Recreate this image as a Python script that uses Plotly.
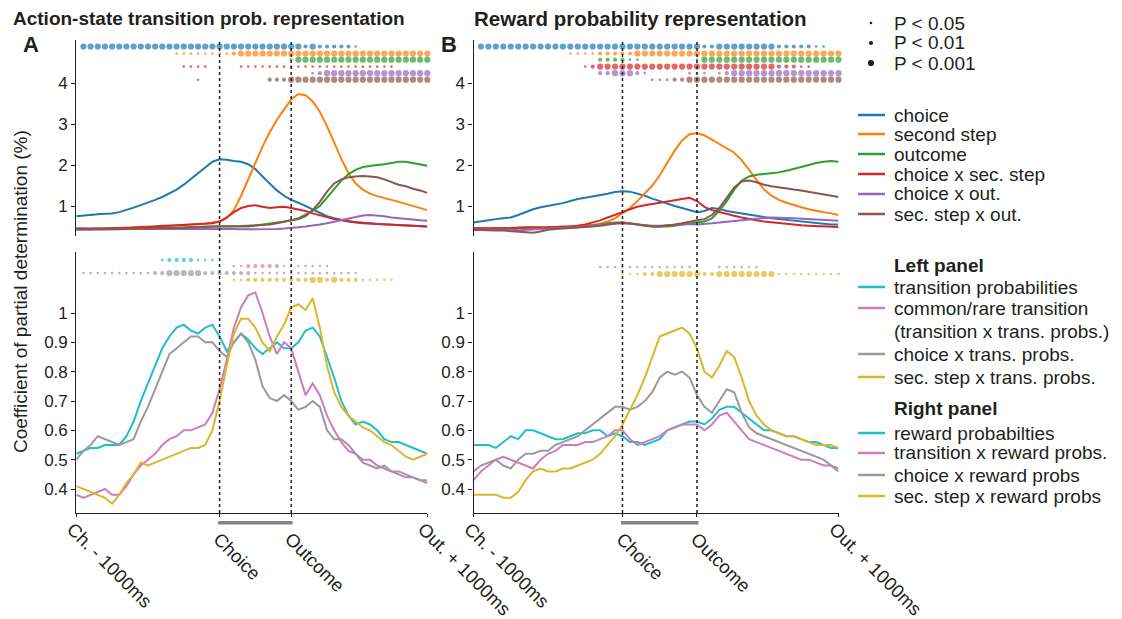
import plotly.graph_objects as go

W, H = 1122, 619
t = list(range(50))          # time bins: 0 = Ch.-1000ms, 20 = Choice, 30 = Outcome, 49 = Out.+1000ms
EVENT_TICKS = [0, 49]
EVENT_LABELS = ["Ch. - 1000ms", "Out. + 1000ms"]
MID_TICKS = [20, 30]
MID_LABELS = ["Choice", "Outcome"]

# ---------------- top panels (%), panel A ----------------
a_choice = [0.75, 0.77, 0.79, 0.80, 0.81, 0.82, 0.85, 0.90, 0.96, 1.02, 1.08, 1.15, 1.22, 1.30, 1.40, 1.52, 1.66,
            1.80, 1.95, 2.08, 2.14, 2.13, 2.10, 2.08, 2.02, 1.90, 1.72, 1.55, 1.38, 1.25, 1.15, 1.08, 1.00, 0.90,
            0.82, 0.75, 0.70, 0.66, 0.63, 0.61, 0.60, 0.58, 0.56, 0.55, 0.54, 0.53, 0.52, 0.52, 0.51, 0.50]
a_second = [0.45, 0.44, 0.43, 0.44, 0.45, 0.45, 0.46, 0.47, 0.48, 0.49, 0.50, 0.50, 0.51, 0.52, 0.53, 0.54, 0.55,
            0.56, 0.57, 0.60, 0.62, 0.70, 0.90, 1.25, 1.65, 2.05, 2.45, 2.80, 3.10, 3.35, 3.60, 3.73, 3.70, 3.55,
            3.30, 2.95, 2.55, 2.15, 1.80, 1.55, 1.40, 1.30, 1.24, 1.20, 1.15, 1.10, 1.05, 1.00, 0.95, 0.90]
a_outcome = [0.45, 0.44, 0.44, 0.45, 0.45, 0.46, 0.46, 0.46, 0.47, 0.47, 0.47, 0.47, 0.46, 0.46, 0.47, 0.48, 0.48,
             0.49, 0.50, 0.50, 0.50, 0.50, 0.50, 0.50, 0.50, 0.52, 0.55, 0.58, 0.60, 0.62, 0.65, 0.70, 0.78, 0.88,
             1.00, 1.20, 1.42, 1.62, 1.78, 1.88, 1.95, 1.98, 2.00, 2.02, 2.05, 2.08, 2.08, 2.05, 2.02, 1.98]
a_ch_sec = [0.45, 0.45, 0.44, 0.44, 0.45, 0.46, 0.46, 0.47, 0.47, 0.48, 0.48, 0.50, 0.52, 0.52, 0.53, 0.54, 0.55,
            0.56, 0.56, 0.58, 0.62, 0.72, 0.85, 0.95, 1.00, 1.02, 0.98, 0.95, 0.97, 0.98, 0.95, 0.92, 0.88, 0.82,
            0.77, 0.72, 0.68, 0.65, 0.62, 0.60, 0.58, 0.57, 0.56, 0.55, 0.54, 0.53, 0.52, 0.52, 0.51, 0.50]
a_ch_out = [0.42, 0.42, 0.42, 0.43, 0.43, 0.43, 0.44, 0.44, 0.44, 0.45, 0.45, 0.45, 0.45, 0.45, 0.45, 0.45, 0.45,
            0.45, 0.45, 0.45, 0.45, 0.44, 0.44, 0.43, 0.43, 0.43, 0.43, 0.43, 0.44, 0.45, 0.46, 0.48, 0.50, 0.52,
            0.55, 0.58, 0.62, 0.66, 0.70, 0.74, 0.77, 0.78, 0.77, 0.75, 0.72, 0.70, 0.68, 0.66, 0.65, 0.64]
a_sec_out = [0.43, 0.43, 0.42, 0.42, 0.42, 0.43, 0.43, 0.44, 0.44, 0.45, 0.45, 0.46, 0.46, 0.46, 0.47, 0.47, 0.48,
             0.48, 0.49, 0.50, 0.50, 0.50, 0.50, 0.51, 0.52, 0.53, 0.54, 0.55, 0.58, 0.62, 0.65, 0.68, 0.75, 0.90,
             1.10, 1.35, 1.55, 1.65, 1.70, 1.72, 1.73, 1.72, 1.70, 1.65, 1.58, 1.52, 1.48, 1.42, 1.38, 1.32]

# ---------------- top panels (%), panel B ----------------
b_choice = [0.60, 0.63, 0.66, 0.68, 0.70, 0.72, 0.78, 0.85, 0.92, 0.97, 1.00, 1.03, 1.07, 1.12, 1.17, 1.20, 1.23,
            1.27, 1.30, 1.34, 1.36, 1.35, 1.30, 1.25, 1.18, 1.12, 1.05, 1.00, 0.95, 0.90, 0.85, 0.88, 0.95, 0.93,
            0.88, 0.85, 0.82, 0.78, 0.75, 0.72, 0.70, 0.68, 0.66, 0.64, 0.62, 0.60, 0.58, 0.56, 0.55, 0.55]
b_second = [0.45, 0.44, 0.44, 0.45, 0.46, 0.46, 0.47, 0.47, 0.48, 0.48, 0.49, 0.49, 0.50, 0.50, 0.51, 0.52, 0.54,
            0.57, 0.62, 0.70, 0.82, 0.95, 1.12, 1.30, 1.50, 1.75, 2.05, 2.35, 2.60, 2.75, 2.78, 2.72, 2.62, 2.52,
            2.42, 2.30, 2.12, 1.88, 1.62, 1.40, 1.25, 1.15, 1.08, 1.02, 0.97, 0.92, 0.88, 0.85, 0.82, 0.78]
b_outcome = [0.45, 0.45, 0.44, 0.45, 0.46, 0.46, 0.47, 0.48, 0.48, 0.47, 0.46, 0.46, 0.47, 0.48, 0.48, 0.50, 0.52,
             0.55, 0.58, 0.60, 0.60, 0.58, 0.55, 0.52, 0.50, 0.50, 0.50, 0.52, 0.55, 0.58, 0.60, 0.62, 0.70, 0.88,
             1.12, 1.40, 1.62, 1.72, 1.76, 1.78, 1.80, 1.82, 1.86, 1.90, 1.95, 2.00, 2.05, 2.08, 2.10, 2.08]
b_ch_sec = [0.46, 0.46, 0.45, 0.45, 0.46, 0.46, 0.47, 0.47, 0.48, 0.48, 0.48, 0.49, 0.49, 0.50, 0.52, 0.55, 0.60,
            0.65, 0.72, 0.78, 0.85, 0.92, 0.98, 1.02, 1.05, 1.08, 1.12, 1.15, 1.18, 1.20, 1.12, 0.98, 0.90, 0.85,
            0.80, 0.76, 0.72, 0.68, 0.65, 0.62, 0.60, 0.58, 0.56, 0.55, 0.53, 0.52, 0.51, 0.50, 0.50, 0.49]
b_ch_out = [0.42, 0.42, 0.43, 0.42, 0.43, 0.42, 0.41, 0.42, 0.43, 0.44, 0.45, 0.45, 0.46, 0.47, 0.48, 0.50, 0.52,
            0.55, 0.57, 0.58, 0.58, 0.57, 0.55, 0.53, 0.52, 0.52, 0.53, 0.54, 0.55, 0.56, 0.55, 0.56, 0.58, 0.60,
            0.62, 0.64, 0.66, 0.68, 0.70, 0.71, 0.72, 0.72, 0.71, 0.70, 0.69, 0.68, 0.67, 0.66, 0.65, 0.64]
b_sec_out = [0.42, 0.41, 0.40, 0.40, 0.40, 0.39, 0.38, 0.36, 0.35, 0.38, 0.42, 0.44, 0.45, 0.46, 0.47, 0.48, 0.50,
             0.52, 0.55, 0.58, 0.60, 0.58, 0.55, 0.52, 0.50, 0.50, 0.52, 0.55, 0.58, 0.62, 0.65, 0.68, 0.78, 0.95,
             1.20, 1.45, 1.60, 1.62, 1.58, 1.52, 1.48, 1.45, 1.42, 1.40, 1.38, 1.35, 1.32, 1.28, 1.25, 1.22]

# ---------------- bottom panels (%), panel A ----------------
a_trans = [0.52, 0.53, 0.54, 0.54, 0.55, 0.55, 0.55, 0.58, 0.63, 0.70, 0.76, 0.82, 0.88, 0.92, 0.95, 0.96, 0.94,
           0.93, 0.95, 0.96, 0.92, 0.87, 0.90, 0.93, 0.91, 0.88, 0.86, 0.88, 0.90, 0.88, 0.88, 0.90, 0.94, 0.95,
           0.92, 0.85, 0.78, 0.70, 0.65, 0.62, 0.63, 0.62, 0.60, 0.57, 0.56, 0.56, 0.55, 0.54, 0.53, 0.52]
a_common = [0.38, 0.37, 0.38, 0.39, 0.40, 0.38, 0.38, 0.41, 0.45, 0.48, 0.50, 0.52, 0.55, 0.57, 0.58, 0.60, 0.60,
            0.61, 0.62, 0.66, 0.74, 0.84, 0.95, 1.02, 1.06, 1.07, 1.00, 0.92, 0.86, 0.90, 0.88, 0.80, 0.72, 0.76,
            0.72, 0.65, 0.60, 0.56, 0.53, 0.52, 0.50, 0.50, 0.48, 0.47, 0.46, 0.46, 0.45, 0.44, 0.43, 0.42]
a_ch_trans = [0.50, 0.53, 0.55, 0.58, 0.57, 0.56, 0.55, 0.56, 0.57, 0.63, 0.68, 0.74, 0.80, 0.86, 0.88, 0.90, 0.92,
              0.92, 0.90, 0.90, 0.87, 0.85, 0.90, 0.93, 0.90, 0.84, 0.75, 0.71, 0.70, 0.72, 0.70, 0.67, 0.68, 0.70,
              0.68, 0.60, 0.57, 0.57, 0.55, 0.52, 0.49, 0.48, 0.47, 0.48, 0.46, 0.45, 0.44, 0.44, 0.43, 0.43]
a_sec_trans = [0.41, 0.40, 0.39, 0.38, 0.37, 0.35, 0.38, 0.42, 0.45, 0.49, 0.48, 0.49, 0.50, 0.51, 0.52, 0.53, 0.54,
               0.54, 0.55, 0.60, 0.70, 0.82, 0.93, 0.98, 0.98, 0.95, 0.90, 0.87, 0.92, 0.96, 1.02, 1.03, 1.01, 1.05,
               0.95, 0.82, 0.73, 0.68, 0.65, 0.63, 0.61, 0.60, 0.58, 0.56, 0.55, 0.53, 0.51, 0.50, 0.51, 0.52]

# ---------------- bottom panels (%), panel B ----------------
b_reward = [0.55, 0.55, 0.55, 0.54, 0.56, 0.58, 0.57, 0.60, 0.60, 0.59, 0.58, 0.57, 0.57, 0.58, 0.59, 0.59, 0.60,
            0.60, 0.58, 0.59, 0.58, 0.56, 0.56, 0.55, 0.56, 0.57, 0.60, 0.61, 0.62, 0.63, 0.63, 0.62, 0.64, 0.67,
            0.68, 0.68, 0.66, 0.64, 0.62, 0.60, 0.60, 0.59, 0.58, 0.58, 0.57, 0.56, 0.56, 0.55, 0.54, 0.54]
b_tr_rew = [0.43, 0.46, 0.48, 0.50, 0.51, 0.50, 0.49, 0.48, 0.47, 0.50, 0.52, 0.53, 0.55, 0.55, 0.55, 0.56, 0.56,
            0.57, 0.58, 0.60, 0.60, 0.57, 0.55, 0.56, 0.57, 0.58, 0.60, 0.61, 0.62, 0.62, 0.62, 0.60, 0.62, 0.65,
            0.66, 0.63, 0.60, 0.57, 0.56, 0.55, 0.54, 0.53, 0.52, 0.51, 0.50, 0.50, 0.49, 0.48, 0.48, 0.47]
b_ch_rew = [0.46, 0.48, 0.49, 0.50, 0.48, 0.47, 0.50, 0.52, 0.52, 0.53, 0.53, 0.55, 0.56, 0.57, 0.58, 0.60, 0.62,
            0.64, 0.66, 0.68, 0.68, 0.67, 0.68, 0.70, 0.73, 0.78, 0.80, 0.79, 0.80, 0.78, 0.72, 0.68, 0.66, 0.70,
            0.74, 0.73, 0.66, 0.61, 0.59, 0.58, 0.57, 0.56, 0.55, 0.54, 0.53, 0.52, 0.51, 0.50, 0.48, 0.46]
b_sec_rew = [0.38, 0.38, 0.38, 0.38, 0.37, 0.37, 0.39, 0.43, 0.46, 0.47, 0.46, 0.46, 0.47, 0.47, 0.48, 0.49, 0.50,
             0.52, 0.55, 0.58, 0.62, 0.67, 0.72, 0.78, 0.85, 0.92, 0.93, 0.94, 0.95, 0.93, 0.88, 0.80, 0.78, 0.82,
             0.87, 0.85, 0.78, 0.70, 0.65, 0.62, 0.60, 0.59, 0.58, 0.58, 0.57, 0.56, 0.55, 0.55, 0.55, 0.54]

# ---------------- significance per bin (0 n.s., 1 p<0.05, 2 p<0.01, 3 p<0.001) ----------------
sig_a_choice = "0333333333" "3333333333" "3333333333" "3323222221" "0000000000"
sig_a_second = "0000000000" "0000111111" "1123333333" "3333333333" "3333333333"
sig_a_outcome = "0000000000" "0000000000" "0000000000" "1333333333" "3333333333"
sig_a_ch_sec = "0000000000" "0000011110" "0001111111" "1111111111" "1111100000"
sig_a_ch_out = "0000000000" "0000000000" "0000000000" "0001233333" "3333333333"
sig_a_sec_out = "0000000000" "0000000100" "0000000222" "3333333333" "3333333333"

sig_b_choice = "0333333333" "3333333333" "3333333333" "3223333333" "3222221100"
sig_b_second = "0000000000" "0001111222" "2233333333" "3333333333" "3333333333"
sig_b_outcome = "0000000000" "0000000222" "2110000000" "1333333333" "3333333333"
sig_b_ch_sec = "0000000000" "0000012333" "3333333333" "3333333333" "3222110000"
sig_b_ch_out = "0000000000" "0000000223" "3321000001" "1101233333" "3333333333"
sig_b_sec_out = "0000000000" "0000000000" "0000111223" "3333333333" "3333333333"

sig_a_trans = "0000000000" "0012222111" "0000000000" "0000000000" "0000000000"
sig_a_common = "0000000000" "0000000000" "0011222221" "1111110000" "0000000000"
sig_a_ch_trans = "0111111111" "1223333322" "2222211111" "1111111111" "0000000000"
sig_a_sec_trans = "0000000000" "0000000000" "0011222222" "2223323222" "1111100000"

sig_b_ch_rew = "0000000000" "0000000111" "1111111111" "0001111110" "0000000000"
sig_b_sec_rew = "0000000000" "0000000000" "1112233333" "3223333333" "3111111111"

# marker row heights (in each panel's y units)
top_rows = [4.89, 4.72, 4.57, 4.40, 4.24, 4.08]
bot_rows_a = [1.181, 1.160, 1.136, 1.113]
bot_rows_b = [1.157, 1.133]

BLUE, ORANGE, GREEN, RED, PURPLE, BROWN = "#1f77b4", "#ff7f0e", "#2ca02c", "#d62728", "#9467bd", "#8c564b"
CYAN, PINK, GRAY, YELLOW = "#1fbecf", "#d07bbd", "#9a9a9a", "#dbb52a"
INK = "#231f20"
FONT = "Liberation Sans, Arial, sans-serif"
DOT_SIZE = {1: 2.6, 2: 4.2, 3: 6.2}
TXT = 19      # legend / axis-title text size
XLAB = 18.5   # event label size
TICK = 17     # tick label size


def px(x):
    return x / W


def py(y):
    return 1 - y / H


fig = go.Figure()


def add_line(x_ax, y_ax, vals, color):
    fig.add_trace(go.Scatter(x=t, y=vals, mode="lines", line=dict(color=color, width=2),
                             xaxis=x_ax, yaxis=y_ax, showlegend=False, hoverinfo="skip"))


def add_sig(x_ax, y_ax, codes, row_y, color):
    levels = [int(c) for c in codes]
    xs = [i for i, lv in enumerate(levels) if lv > 0]
    sz = [DOT_SIZE[levels[i]] for i in xs]
    fig.add_trace(go.Scatter(x=xs, y=[row_y] * len(xs), mode="markers",
                             marker=dict(color=color, size=sz, line=dict(width=0)),
                             cliponaxis=False, xaxis=x_ax, yaxis=y_ax, showlegend=False, hoverinfo="skip"))


top_a = [(a_choice, BLUE), (a_second, ORANGE), (a_outcome, GREEN), (a_ch_sec, RED), (a_ch_out, PURPLE), (a_sec_out, BROWN)]
top_b = [(b_choice, BLUE), (b_second, ORANGE), (b_outcome, GREEN), (b_ch_sec, RED), (b_ch_out, PURPLE), (b_sec_out, BROWN)]
for vals, col in top_a:
    add_line("x", "y", vals, col)
for vals, col in top_b:
    add_line("x2", "y2", vals, col)

for codes, row, col in zip([sig_a_choice, sig_a_second, sig_a_outcome, sig_a_ch_sec, sig_a_ch_out, sig_a_sec_out],
                           top_rows, [BLUE, ORANGE, GREEN, RED, PURPLE, BROWN]):
    add_sig("x", "y", codes, row, col)
for codes, row, col in zip([sig_b_choice, sig_b_second, sig_b_outcome, sig_b_ch_sec, sig_b_ch_out, sig_b_sec_out],
                           top_rows, [BLUE, ORANGE, GREEN, RED, PURPLE, BROWN]):
    add_sig("x2", "y2", codes, row, col)

for vals, col in [(a_trans, CYAN), (a_common, PINK), (a_ch_trans, GRAY), (a_sec_trans, YELLOW)]:
    add_line("x3", "y3", vals, col)
for vals, col in [(b_reward, CYAN), (b_tr_rew, PINK), (b_ch_rew, GRAY), (b_sec_rew, YELLOW)]:
    add_line("x4", "y4", vals, col)

for codes, row, col in zip([sig_a_trans, sig_a_common, sig_a_ch_trans, sig_a_sec_trans], bot_rows_a,
                           [CYAN, PINK, GRAY, YELLOW]):
    add_sig("x3", "y3", codes, row, col)
for codes, row, col in zip([sig_b_ch_rew, sig_b_sec_rew], bot_rows_b, [GRAY, YELLOW]):
    add_sig("x4", "y4", codes, row, col)

# ---------------- axes ----------------
dom_left = [px(76.3), px(427.3)]
dom_right = [px(473.5), px(838.5)]
dom_top = [py(236), py(40)]
dom_bot = [py(513), py(252)]
XR = [0, 49]

yax_common = dict(showline=True, linecolor=INK, linewidth=1.2, ticks="outside", ticklen=4, tickwidth=1.2,
                  tickcolor=INK, showgrid=False, zeroline=False, automargin=False,
                  tickfont=dict(size=TICK, color=INK, family=FONT))
top_y = dict(yax_common, range=[1 - 30 / 41, 1 + 166 / 41], tickvals=[1, 2, 3, 4], domain=dom_top)
bot_y = dict(yax_common, range=[0.4 - 24 / 293.3, 1 + 61 / 293.3], tickvals=[0.4, 0.5, 0.6, 0.7, 0.8, 0.9, 1.0],
             ticktext=["0.4", "0.5", "0.6", "0.7", "0.8", "0.9", "1"], domain=dom_bot)

hidden_x = dict(visible=False, range=XR, showgrid=False, zeroline=False, automargin=False)
event_x = dict(range=XR, showline=True, linecolor=INK, linewidth=1.2, ticks="outside", ticklen=3, tickwidth=1.2,
               tickcolor=INK, tickvals=EVENT_TICKS + MID_TICKS, ticktext=EVENT_LABELS + ["", ""], tickangle=45,
               showgrid=False, zeroline=False, automargin=False, ticklabelstandoff=-6, ticklabelshift=-4,
               tickfont=dict(size=XLAB, color=INK, family=FONT))

fig.update_layout(
    xaxis=dict(hidden_x, domain=dom_left, anchor="y"),
    xaxis2=dict(hidden_x, domain=dom_right, anchor="y2"),
    xaxis3=dict(event_x, domain=dom_left, anchor="y3"),
    xaxis4=dict(event_x, domain=dom_right, anchor="y4"),
    yaxis=dict(top_y, anchor="x"),
    yaxis2=dict(top_y, anchor="x2"),
    yaxis3=dict(bot_y, anchor="x3"),
    yaxis4=dict(bot_y, anchor="x4"),
)

# ---------------- event markers ----------------
shapes = []
ann = []
for xa in ["x", "x2"]:
    for ev in MID_TICKS:
        shapes.append(dict(type="line", xref=xa, yref="paper", x0=ev, x1=ev, y0=py(513), y1=py(40),
                           line=dict(color=INK, width=1.5, dash="dot")))
for xa in ["x3", "x4"]:
    shapes.append(dict(type="rect", xref=xa, yref="paper", x0=MID_TICKS[0] - 0.2, x1=MID_TICKS[1] + 0.2,
                       y0=py(524.5), y1=py(521), line=dict(width=0), fillcolor="#858585"))
    # event labels hang below the grey choice-outcome bar
    for ev, lab in zip(MID_TICKS, MID_LABELS):
        ann.append(dict(text=lab, x=ev, xref=xa, xshift=-13, y=py(526), yref="paper", textangle=45,
                        xanchor="left", yanchor="top", font=dict(size=XLAB, color=INK, family=FONT)))

# ---------------- legend ----------------
legend_top = [("choice", BLUE, 115), ("second step", ORANGE, 134), ("outcome", GREEN, 154),
              ("choice x sec. step", RED, 174), ("choice x out.", PURPLE, 194), ("sec. step x out.", BROWN, 214)]
legend_left = [("transition probabilities", CYAN, 287), ("common/rare transition", PINK, 308),
               ("choice x trans. probs.", GRAY, 354), ("sec. step x trans. probs.", YELLOW, 377)]
legend_right = [("reward probabilties", CYAN, 433), ("transition x reward probs.", PINK, 453),
                ("choice x reward probs", GRAY, 475), ("sec. step x reward probs", YELLOW, 496)]
for name, col, yy in legend_top + legend_left + legend_right:
    shapes.append(dict(type="line", xref="paper", yref="paper", x0=px(858), x1=px(885), y0=py(yy), y1=py(yy),
                       line=dict(color=col, width=2.5)))
    ann.append(dict(text=name, x=px(892), y=py(yy), xanchor="left", yanchor="middle"))
ann.append(dict(text="(transition x trans. probs.)", x=px(892), y=py(331), xanchor="left", yanchor="middle"))
ann.append(dict(text="<b>Left panel</b>", x=px(892), y=py(265), xanchor="left", yanchor="middle"))
ann.append(dict(text="<b>Right panel</b>", x=px(892), y=py(408), xanchor="left", yanchor="middle"))

for lv, yy, label in [(1, 23, "P < 0.05"), (2, 43, "P < 0.01"), (3, 63, "P < 0.001")]:
    r = DOT_SIZE[lv] / 2
    shapes.append(dict(type="circle", xref="paper", yref="paper", x0=px(871 - r), x1=px(871 + r),
                       y0=py(yy + r), y1=py(yy - r), fillcolor=INK, line=dict(width=0)))
    ann.append(dict(text=label, x=px(892), y=py(yy), xanchor="left", yanchor="middle"))

# titles, panel letters, y-axis title
ann.append(dict(text="<b>Action-state transition prob. representation</b>", x=px(11), y=py(18),
                xanchor="left", yanchor="middle", font=dict(size=19, color=INK, family=FONT)))
ann.append(dict(text="<b>Reward probability representation</b>", x=px(472), y=py(18),
                xanchor="left", yanchor="middle", font=dict(size=20.5, color=INK, family=FONT)))
ann.append(dict(text="<b>A</b>", x=px(21), y=py(45), xanchor="left", yanchor="middle",
                font=dict(size=22, color=INK, family=FONT)))
ann.append(dict(text="<b>B</b>", x=px(439), y=py(45), xanchor="left", yanchor="middle",
                font=dict(size=22, color=INK, family=FONT)))
ann.append(dict(text="Coefficient of partial determination (%)", x=px(20), y=py(292), textangle=-90,
                xanchor="center", yanchor="middle", font=dict(size=TXT, color=INK, family=FONT)))

for a in ann:
    a.setdefault("font", dict(size=TXT, color=INK, family=FONT))
    a.setdefault("xref", "paper")
    a.setdefault("yref", "paper")
    a["showarrow"] = False

fig.update_layout(
    width=W, height=H, margin=dict(l=0, r=0, t=0, b=0, autoexpand=False),
    paper_bgcolor="white", plot_bgcolor="white",
    font=dict(family=FONT, color=INK, size=16),
    shapes=shapes, annotations=ann, showlegend=False,
)

fig.write_html("out.html")
